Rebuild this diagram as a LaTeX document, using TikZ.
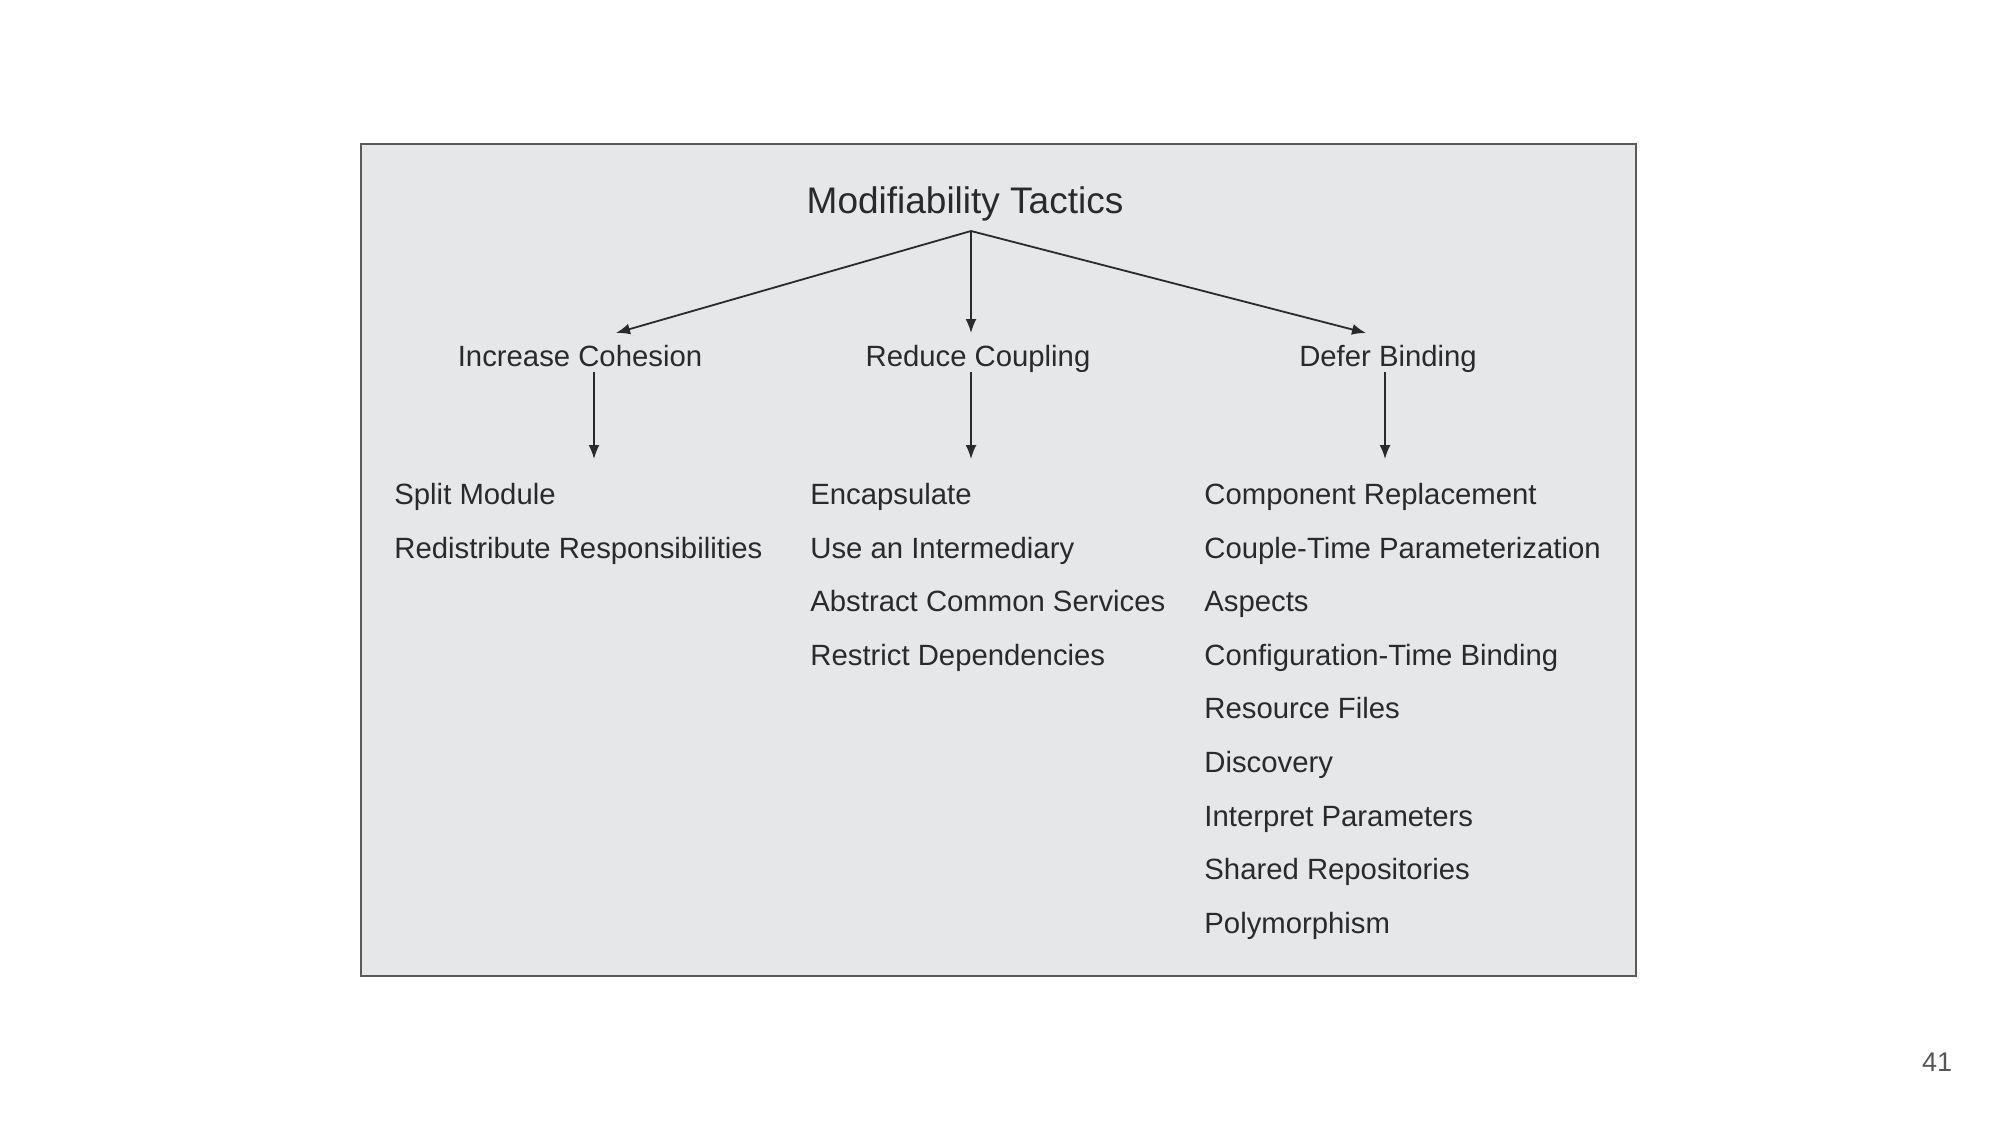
\documentclass[tikz,border=0pt]{standalone}
\usepackage{fontspec}
\setmainfont{Liberation Sans}
\usetikzlibrary{arrows.meta}
\definecolor{boxfill}{HTML}{E6E7E9}
\definecolor{boxline}{HTML}{5A5A5A}
\definecolor{ink}{HTML}{2A2A2A}
\definecolor{pagenum}{HTML}{555555}
\begin{document}
\begin{tikzpicture}[x=0.5pt,y=-0.5pt,
  item/.style={anchor=west, inner sep=0pt, text height=0.716em, text depth=0pt,
    font=\fontsize{14.65}{17}\selectfont, text=ink},
  head/.style={anchor=center, inner sep=0pt, text height=0.716em, text depth=0pt,
    font=\fontsize{14.65}{17}\selectfont, text=ink},
  titlestyle/.style={anchor=center, inner sep=0pt, text height=0.716em, text depth=0pt,
    font=\fontsize{18.5}{22}\selectfont, text=ink},
  arr/.style={-{Latex[length=7pt,width=5.5pt]}, line width=0.9pt, draw=ink}]
\useasboundingbox (0,0) rectangle (2000,1125);
\node (frame) [draw=boxline, fill=boxfill, line width=1pt, inner sep=0pt,
  minimum width=637.5pt, minimum height=416pt] at (998.5,560) {};
\node (title) [titlestyle] at (965,206) {Modifiability Tactics};
\node (ic) [head] at (580,359) {Increase Cohesion};
\node (rc) [head] at (978,359) {Reduce Coupling};
\node (db) [head] at (1388,359) {Defer Binding};
% coordinates for connectors
\coordinate (src) at (971,231);
\coordinate (icin) at (616,333);
\coordinate (rcin) at (971,333);
\coordinate (dbin) at (1366,333);
\coordinate (icout) at (594,372);
\coordinate (rcout) at (971,372);
\coordinate (dbout) at (1385,372);
\coordinate (icl) at (594,459);
\coordinate (rcl) at (971,459);
\coordinate (dbl) at (1385,459);
\draw[arr] (src) -- (icin);
\draw[arr] (src) -- (rcin);
\draw[arr] (src) -- (dbin);
\draw[arr] (icout) -- (icl);
\draw[arr] (rcout) -- (rcl);
\draw[arr] (dbout) -- (dbl);
% left list
\node (a1) [item] at (394,497.5) {Split Module};
\node (a2) [item] at (394,551.1) {Redistribute Responsibilities};
% middle list
\node (b1) [item] at (810,497.5) {Encapsulate};
\node (b2) [item] at (810,551.1) {Use an Intermediary};
\node (b3) [item] at (810,604.6) {Abstract Common Services};
\node (b4) [item] at (810,658.2) {Restrict Dependencies};
% right list
\node (c1) [item] at (1204,497.5) {Component Replacement};
\node (c2) [item] at (1204,551.1) {Couple-Time Parameterization};
\node (c3) [item] at (1204,604.6) {Aspects};
\node (c4) [item] at (1204,658.2) {Configuration-Time Binding};
\node (c5) [item] at (1204,711.8) {Resource Files};
\node (c6) [item] at (1204,765.4) {Discovery};
\node (c7) [item] at (1204,818.9) {Interpret Parameters};
\node (c8) [item] at (1204,872.5) {Shared Repositories};
\node (c9) [item] at (1204,926.1) {Polymorphism};
\node (pg) [anchor=center, inner sep=0pt, text height=0.716em, text depth=0pt,
  font=\fontsize{13.5}{16}\selectfont, text=pagenum] at (1937,1064.5) {41};
\end{tikzpicture}
\end{document}
